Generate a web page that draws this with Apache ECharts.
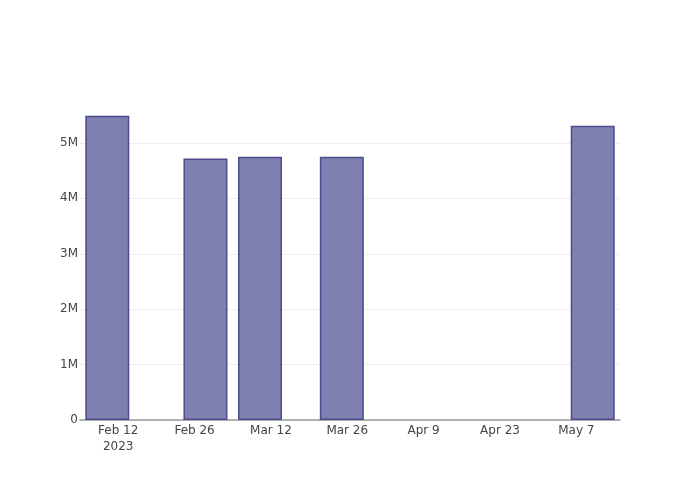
<!DOCTYPE html>
<html>
<head>
<meta charset="utf-8">
<script src="https://cdn.jsdelivr.net/npm/echarts@6/dist/echarts.min.js"></script>
<style>
  html, body { margin: 0; padding: 0; background: #fff; }
  #chart { width: 700px; height: 500px; }
</style>
</head>
<body>
<div id="chart"></div>
<script>
// 日期（从 2023-02-12 起算的天数）
const dates = ['2023-02-10', '2023-02-28', '2023-03-10', '2023-03-25', '2023-05-10'];
const values = [5490000, 4720000, 4750000, 4750000, 5310000];
const tickDates = ['2023-02-12', '2023-02-26', '2023-03-12', '2023-03-26', '2023-04-09', '2023-04-23', '2023-05-07'];
const tickLabels = ['Feb 12\n2023', 'Feb 26', 'Mar 12', 'Mar 26', 'Apr 9', 'Apr 23', 'May 7'];
const yTicks = [0, 1000000, 2000000, 3000000, 4000000, 5000000];
const yLabels = ['0', '1M', '2M', '3M', '4M', '5M'];

const origin = Date.UTC(2023, 1, 12);
const toDay = (s) => (Date.parse(s + 'T00:00:00Z') - origin) / 86400000;

const tickDays = tickDates.map(toDay);
const seriesData = dates.map((d, i) => [toDay(d), values[i]]);

const chart = echarts.init(document.getElementById('chart'));
chart.setOption({
  animation: false,
  textStyle: { fontFamily: '"DejaVu Sans", sans-serif' },
  grid: { left: 80, right: 80, top: 100, bottom: 80, containLabel: false },
  xAxis: {
    type: 'value',
    min: -7,
    max: 92,
    axisLine: { show: true, lineStyle: { color: '#999', width: 1.5 } },
    axisTick: { show: false },
    splitLine: { show: false },
    axisLabel: {
      customValues: tickDays,
      color: '#444',
      fontSize: 12,
      lineHeight: 16,
      margin: 3,
      formatter: (v) => {
        const i = tickDays.indexOf(v);
        return i >= 0 ? tickLabels[i] : '';
      },
    },
  },
  yAxis: {
    type: 'value',
    min: 0,
    max: 5775000,
    interval: 1000000,
    axisLine: { show: false },
    axisTick: { show: false },
    splitLine: { showMaxLine: false, lineStyle: { color: '#eee', width: 1 } },
    axisLabel: {
      color: '#444',
      fontSize: 12,
      margin: 2,
      showMaxLabel: false,
      formatter: (v) => {
        const i = yTicks.indexOf(v);
        return i >= 0 ? yLabels[i] : '';
      },
    },
  },
  series: [
    {
      type: 'bar',
      data: seriesData,
      barWidth: 44,
      itemStyle: {
        color: '#7f7fb0',
        borderColor: '#4b4b8e',
        borderWidth: 1.5,
      },
    },
  ],
});
</script>
</body>
</html>
